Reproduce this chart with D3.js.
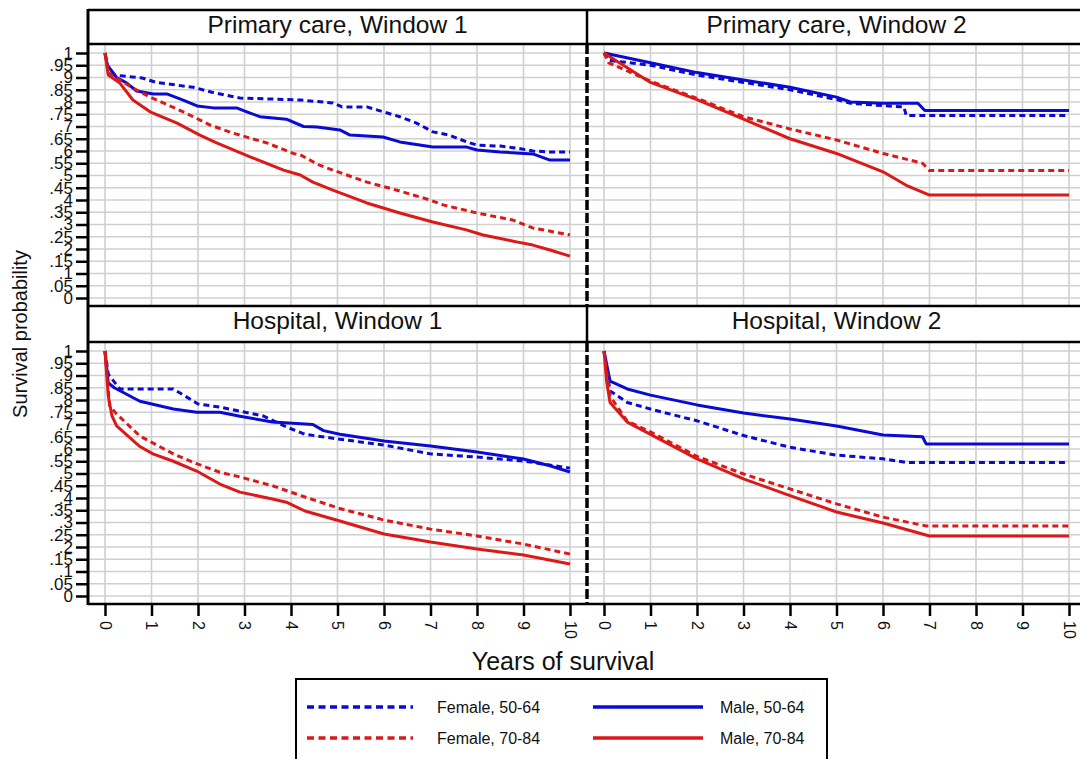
<!DOCTYPE html>
<html>
<head>
<meta charset="utf-8">
<style>
  body { margin: 0px; background: #fff; }
  text { font-family: "Liberation Sans", Arial, sans-serif; fill: #111; }
</style>
</head>
<body>
<script src="https://cdn.jsdelivr.net/npm/d3@7"></script>
<script>

// *** DATA ***

var years = [0, 1, 2, 3, 4, 5, 6, 7, 8, 9, 10];
var probTicks = [0, .05, .1, .15, .2, .25, .3, .35, .4, .45, .5, .55, .6, .65, .7, .75, .8, .85, .9, .95, 1];
var probLabels = ["0", ".05", ".1", ".15", ".2", ".25", ".3", ".35", ".4", ".45", ".5",
                  ".55", ".6", ".65", ".7", ".75", ".8", ".85", ".9", ".95", "1"];

var panelTitles = ["Primary care, Window 1", "Primary care, Window 2", "Hospital, Window 1", "Hospital, Window 2"];
var groupNames = ["Female, 50-64", "Male, 50-64", "Female, 70-84", "Male, 70-84"];

// Primary care, window 1  ([years, survival])
var pc1Female50 = [[0,1],[0.05,0.95],[0.2,0.91],[0.8,0.898],[1.1,0.88],[1.9,0.86],[2.3,0.84],[2.9,0.816],
  [3.6,0.812],[4.2,0.808],[4.9,0.796],[5.1,0.78],[5.63,0.78],[5.98,0.76],[6.34,0.74],[6.7,0.714],
  [7.05,0.678],[7.4,0.665],[7.78,0.637],[8,0.624],[8.5,0.62],[8.85,0.612],[9.2,0.6],[9.57,0.596],[10,0.596]];
var pc1Male50 = [[0,1],[0.05,0.95],[0.25,0.9],[0.47,0.877],[0.68,0.845],[1.04,0.833],[1.33,0.833],[1.68,0.808],
  [1.98,0.784],[2.33,0.776],[2.83,0.776],[3.05,0.76],[3.33,0.74],[3.9,0.73],[4.27,0.70],[4.56,0.698],
  [5.05,0.686],[5.27,0.665],[5.98,0.657],[6.34,0.637],[7.05,0.616],[7.78,0.616],[8,0.604],[8.5,0.596],
  [9.2,0.588],[9.57,0.563],[10,0.563]];
var pc1Female70 = [[0,1],[0.07,0.918],[0.32,0.89],[0.6,0.857],[0.97,0.82],[1.68,0.76],[2.26,0.706],[2.75,0.673],
  [3.48,0.633],[4.05,0.59],[4.2,0.584],[4.6,0.543],[4.9,0.522],[5.63,0.473],[6.28,0.44],[6.99,0.40],
  [7.27,0.38],[8,0.347],[8.77,0.318],[9.2,0.286],[10,0.257]];
var pc1Male70 = [[0,1],[0.07,0.91],[0.32,0.877],[0.6,0.808],[0.97,0.76],[1.55,0.714],[2.04,0.665],[2.4,0.633],
  [3.12,0.576],[3.84,0.522],[4.2,0.502],[4.47,0.473],[4.9,0.44],[5.63,0.388],[6.34,0.347],[7.05,0.31],
  [7.77,0.278],[8.13,0.257],[8.85,0.229],[9.2,0.216],[9.57,0.196],[10,0.171]];

// Primary care, window 2
var pc2Female50 = [[0,1],[0.1,0.97],[1,0.95],[2,0.91],[3,0.88],[4,0.85],[5,0.81],[5.3,0.795],[6,0.785],
  [6.45,0.78],[6.5,0.745],[10,0.745]];
var pc2Male50 = [[0,1],[1,0.96],[2,0.92],[3,0.89],[4,0.86],[5,0.82],[5.3,0.80],[6,0.795],[6.75,0.795],
  [6.9,0.765],[10,0.765]];
var pc2Female70 = [[0,1],[0.1,0.96],[1,0.885],[2,0.815],[3,0.74],[4,0.69],[5,0.645],[6,0.59],[6.85,0.55],
  [7,0.52],[10,0.52]];
var pc2Male70 = [[0,1],[1,0.88],[2,0.81],[3,0.73],[4,0.65],[5,0.59],[6,0.515],[6.5,0.46],[7,0.42],[10,0.42]];

// Hospital, window 1
var h1Female50 = [[0,1],[0.07,0.905],[0.32,0.845],[1.47,0.845],[2,0.784],[2.5,0.77],[3.4,0.735],[3.9,0.69],
  [4.3,0.66],[5.05,0.64],[6,0.616],[7,0.58],[8,0.567],[9,0.551],[10,0.522]];
var h1Male50 = [[0,1],[0.07,0.87],[0.2,0.85],[0.75,0.795],[1.47,0.763],[1.97,0.75],[2.47,0.75],[2.9,0.734],
  [3.6,0.71],[4.47,0.70],[4.7,0.675],[5.05,0.66],[6,0.633],[7,0.612],[8,0.588],[9,0.559],[9.5,0.535],[10,0.506]];
var h1Female70 = [[0,1],[0.1,0.776],[0.25,0.743],[0.75,0.653],[1.47,0.58],[1.97,0.54],[2.47,0.505],[2.9,0.486],
  [3.6,0.45],[4.3,0.404],[5.05,0.357],[6,0.31],[7,0.273],[8,0.245],[9,0.212],[10,0.171]];
var h1Male70 = [[0,1],[0.07,0.816],[0.15,0.735],[0.25,0.694],[0.75,0.61],[1.03,0.58],[1.47,0.55],[1.97,0.51],
  [2.47,0.457],[2.9,0.424],[3.6,0.396],[3.9,0.383],[4.3,0.347],[5.05,0.306],[6,0.253],[7,0.22],
  [8,0.192],[9,0.167],[10,0.131]];

// Hospital, window 2
var h2Female50 = [[0,1],[0.13,0.837],[0.5,0.79],[1,0.763],[2,0.715],[3,0.655],[4,0.607],[5,0.575],[6,0.56],
  [6.5,0.545],[10,0.545]];
var h2Male50 = [[0,1],[0.13,0.877],[0.5,0.845],[1,0.82],[2,0.78],[3,0.747],[4,0.722],[5,0.694],[6,0.657],
  [6.85,0.65],[6.93,0.62],[10,0.62]];
var h2Female70 = [[0,1],[0.13,0.816],[0.5,0.714],[1,0.67],[2,0.57],[3,0.498],[4,0.437],[5,0.376],[6,0.322],
  [6.93,0.286],[10,0.286]];
var h2Male70 = [[0,1],[0.06,0.87],[0.13,0.79],[0.5,0.71],[1,0.66],[2,0.56],[3,0.478],[4,0.41],[5,0.343],
  [6,0.298],[7,0.245],[10,0.245]];

var panelData = [
  [pc1Female50, pc1Male50, pc1Female70, pc1Male70],
  [pc2Female50, pc2Male50, pc2Female70, pc2Male70],
  [h1Female50, h1Male50, h1Female70, h1Male70],
  [h2Female50, h2Male50, h2Female70, h2Male70]
];

// *** STYLE / LAYOUT ***

var blue = "#0a0ad2", red = "#dc1919";
var groupColor = [blue, blue, red, red];
var groupDash = ["6,4", null, "6,4", null];

var W = 1080, H = 759;
var colLeft = [88, 587];
var panelW = 499;
var stripTop = [10, 306];
var plotTop = [44, 342];
var plotBottom = [306, 604];
var fontFam = "'Liberation Sans', Arial, sans-serif";

var svg = d3.select("body").append("svg")
  .attr("width", W).attr("height", H);

svg.append("rect").attr("width", W).attr("height", H).attr("fill", "#fff");

// *** PANELS ***

panelTitles.forEach(function(title, i){
  var col = i % 2, row = Math.floor(i / 2);
  var left = colLeft[col], right = left + panelW;

  var x = d3.scaleLinear().domain([0, 10]).range([left + 17, left + 482]);
  var y = d3.scaleLinear().domain([0, 1]).range([plotBottom[row] - 8, plotTop[row] + 9]);

  var g = svg.append("g");

  // grid
  g.selectAll(".hgrid").data(probTicks).enter().append("line")
    .attr("x1", left).attr("x2", right)
    .attr("y1", function(d){ return y(d); }).attr("y2", function(d){ return y(d); })
    .attr("stroke", "#d0d0d0").attr("stroke-width", 1.6);
  g.selectAll(".vgrid").data(years).enter().append("line")
    .attr("x1", function(d){ return x(d); }).attr("x2", function(d){ return x(d); })
    .attr("y1", plotTop[row]).attr("y2", plotBottom[row])
    .attr("stroke", "#d0d0d0").attr("stroke-width", 1.6);

  // curves
  var line = d3.line()
    .x(function(d){ return x(d[0]); })
    .y(function(d){ return y(d[1]); });

  panelData[i].forEach(function(series, k){
    g.append("path")
      .datum(series)
      .attr("d", line)
      .attr("fill", "none")
      .attr("stroke", groupColor[k])
      .attr("stroke-width", 3)
      .attr("stroke-linejoin", "round")
      .attr("stroke-dasharray", groupDash[k]);
  });

  // title strip
  svg.append("text")
    .attr("x", (left + right) / 2)
    .attr("y", stripTop[row] + 23)
    .attr("text-anchor", "middle")
    .style("font-size", "24.5px")
    .text(title);

  // y axis on left column
  if (col === 0) {
    var yAxis = d3.axisLeft(y)
      .tickValues(probTicks)
      .tickFormat(function(d, j){ return probLabels[j]; })
      .tickSize(12).tickPadding(3);
    var ya = svg.append("g").attr("transform", "translate(" + left + ",0)").call(yAxis);
    ya.attr("font-size", null).attr("font-family", null);
    ya.select(".domain").remove();
    ya.selectAll(".tick line").attr("stroke", "#000").attr("stroke-width", 2.5);
    ya.selectAll(".tick text").style("font-size", "17px").style("font-family", fontFam).attr("fill", "#111");
  }

  // x axis on bottom row
  if (row === 1) {
    var xAxis = d3.axisBottom(x).tickValues(years).tickFormat(d3.format("d")).tickSize(12);
    var xa = svg.append("g").attr("transform", "translate(0," + plotBottom[row] + ")").call(xAxis);
    xa.attr("font-size", null).attr("font-family", null);
    xa.select(".domain").remove();
    xa.selectAll(".tick line").attr("stroke", "#000").attr("stroke-width", 2.5);
    xa.selectAll(".tick text")
      .attr("transform", "rotate(90)")
      .attr("x", 17).attr("y", 0).attr("dy", "0.35em")
      .attr("text-anchor", "start")
      .style("font-size", "16px").style("font-family", fontFam).attr("fill", "#111");
  }
});

// *** FRAMES ***

[10, 44, 306, 342, 604].forEach(function(yy){
  svg.append("line").attr("x1", 88).attr("x2", W).attr("y1", yy).attr("y2", yy)
    .attr("stroke", "#000").attr("stroke-width", 2.5);
});
svg.append("line").attr("x1", 88).attr("x2", 88).attr("y1", 9).attr("y2", 605)
  .attr("stroke", "#000").attr("stroke-width", 3);

// column divider: solid in strips, dashed over plots
[[10, 44], [306, 342]].forEach(function(s){
  svg.append("line").attr("x1", 587).attr("x2", 587).attr("y1", s[0]).attr("y2", s[1])
    .attr("stroke", "#000").attr("stroke-width", 2.5);
});
[[44, 306], [342, 604]].forEach(function(s){
  svg.append("line").attr("x1", 587).attr("x2", 587).attr("y1", s[0]).attr("y2", s[1])
    .attr("stroke", "#000").attr("stroke-width", 3.5).attr("stroke-dasharray", "10,3");
});

// *** AXIS TITLES ***

svg.append("text")
  .attr("transform", "translate(27,334) rotate(-90)")
  .attr("text-anchor", "middle")
  .style("font-size", "20px")
  .text("Survival probability");

svg.append("text")
  .attr("x", 563).attr("y", 670)
  .attr("text-anchor", "middle")
  .style("font-size", "25px")
  .text("Years of survival");

// *** LEGEND ***

svg.append("rect")
  .attr("x", 296).attr("y", 679).attr("width", 531).attr("height", 100)
  .attr("fill", "#fff").attr("stroke", "#000").attr("stroke-width", 2);

var legendPos = [[307, 413, 437, 707], [593, 703, 720, 707], [307, 413, 437, 738], [593, 703, 720, 738]];
// order in legend: Female 50-64, Male 50-64, Female 70-84, Male 70-84
groupNames.forEach(function(name, k){
  var p = legendPos[k];
  svg.append("line")
    .attr("x1", p[0]).attr("x2", p[1]).attr("y1", p[3]).attr("y2", p[3])
    .attr("stroke", groupColor[k]).attr("stroke-width", 3.5)
    .attr("stroke-dasharray", groupDash[k] ? "7,4.5" : null);
  svg.append("text")
    .attr("x", p[2]).attr("y", p[3]).attr("dy", "0.35em")
    .style("font-size", "16px")
    .text(name);
});

</script>
</body>
</html>
